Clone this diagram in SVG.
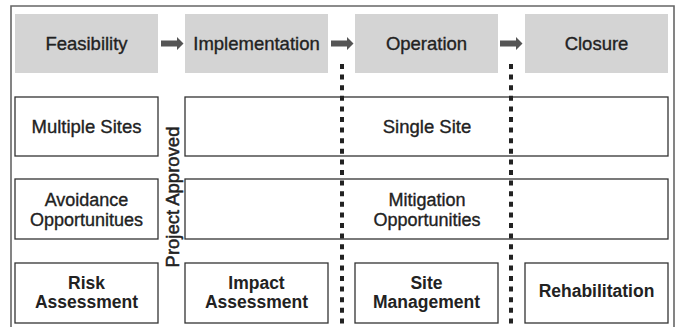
<svg xmlns="http://www.w3.org/2000/svg" width="678" height="327" viewBox="0 0 678 327">
<defs>
<style>
.frame{fill:none;stroke:#666;stroke-width:1.6}
.hdr{fill:#d4d4d4;stroke:none}
.box{fill:#fff;stroke:#333;stroke-width:1.3}
.t{font-family:"Liberation Sans",Arial,sans-serif;font-size:18.5px;fill:#222;stroke:#222;stroke-width:0.35;text-anchor:middle}
.s{font-size:18px}
.b{font-weight:bold;font-size:17.5px;stroke-width:0}
.arrow{fill:#555}
.dot{fill:none;stroke:#222;stroke-width:4;stroke-dasharray:5 5.6}
</style>
</defs>
<path class="frame" d="M11,327 V6 H674 V327"/>
<g id="connectors">
<path class="arrow" d="M161,40.5 H177 V37 L183.5,43.5 L177,50 V46.5 H161 Z"/>
<path class="arrow" d="M331,40.5 H347 V37 L353.5,43.5 L347,50 V46.5 H331 Z"/>
<path class="arrow" d="M500,40.5 H516 V37 L522.5,43.5 L516,50 V46.5 H500 Z"/>
</g>
<g id="feasibility"><rect class="hdr" x="15" y="14" width="143" height="59"/><text class="t" x="86.5" y="50">Feasibility</text></g>
<g id="implementation"><rect class="hdr" x="185" y="14" width="143" height="59"/><text class="t" x="256.5" y="50">Implementation</text></g>
<g id="operation"><rect class="hdr" x="355" y="14" width="143" height="59"/><text class="t" x="426.5" y="50">Operation</text></g>
<g id="closure"><rect class="hdr" x="525" y="14" width="143" height="59"/><text class="t" x="596.5" y="50">Closure</text></g>
<g id="multiple-sites"><rect class="box" x="15" y="97" width="143" height="59"/><text class="t" x="86.5" y="133">Multiple Sites</text></g>
<g id="single-site"><rect class="box" x="185" y="97" width="483" height="59"/><text class="t" x="427" y="133">Single Site</text></g>
<g id="avoidance"><rect class="box" x="15" y="179" width="143" height="60"/><text class="t s" x="86.5" y="206">Avoidance</text><text class="t s" x="86.5" y="226">Opportunitues</text></g>
<g id="mitigation"><rect class="box" x="185" y="179" width="483" height="60"/><text class="t s" x="427" y="206">Mitigation</text><text class="t s" x="427" y="226">Opportunities</text></g>
<g id="risk"><rect class="box" x="15" y="263" width="143" height="60"/><text class="t b" x="86.5" y="289">Risk</text><text class="t b" x="86.5" y="308">Assessment</text></g>
<g id="impact"><rect class="box" x="185" y="263" width="143" height="60"/><text class="t b" x="256.5" y="289">Impact</text><text class="t b" x="256.5" y="308">Assessment</text></g>
<g id="site-management"><rect class="box" x="355" y="263" width="143" height="60"/><text class="t b" x="426.5" y="289">Site</text><text class="t b" x="426.5" y="308">Management</text></g>
<g id="rehabilitation"><rect class="box" x="525" y="263" width="143" height="60"/><text class="t b" x="596.5" y="297">Rehabilitation</text></g>
<g id="dividers">
<line class="dot" x1="342" y1="64" x2="342" y2="327"/>
<line class="dot" x1="511" y1="64" x2="511" y2="327"/>
</g>
<g id="project-approved"><text class="t" style="font-size:18.5px;stroke-width:0.5" transform="translate(179,197) rotate(-90)" x="0" y="0">Project Approved</text></g>
</svg>
